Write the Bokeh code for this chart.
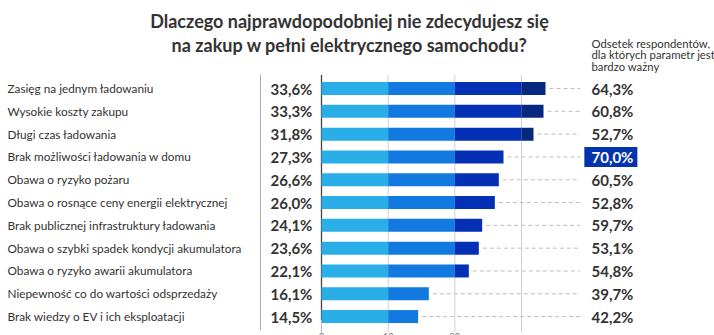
from bokeh.plotting import figure
from bokeh.models import Range1d, ColumnDataSource
from bokeh.core.properties import value
from bokeh.embed import file_html
from bokeh.resources import INLINE

categories = [
    "Zasięg na jednym ładowaniu",
    "Wysokie koszty zakupu",
    "Długi czas ładowania",
    "Brak możliwości ładowania w domu",
    "Obawa o ryzyko pożaru",
    "Obawa o rosnące ceny energii elektrycznej",
    "Brak publicznej infrastruktury ładowania",
    "Obawa o szybki spadek kondycji akumulatora",
    "Obawa o ryzyko awarii akumulatora",
    "Niepewność co do wartości odsprzedaży",
    "Brak wiedzy o EV i ich eksploatacji",
]
shares = [33.6, 33.3, 31.8, 27.3, 26.6, 26.0, 24.1, 23.6, 22.1, 16.1, 14.5]
very_important = [64.3, 60.8, 52.7, 70.0, 60.5, 52.8, 59.7, 53.1, 54.8, 39.7, 42.2]
band_edges = [0, 10, 20, 30, 100]
band_colors = ["#2aaee8", "#1279e0", "#0430b5", "#06287e"]
axis_ticks = [0, 10, 20, 30]
axis_tick_labels = ["0", "10", "20", "30%"]
title_lines = ["Dlaczego najprawdopodobniej nie zdecydujesz się",
               "na zakup w pełni elektrycznego samochodu?"]
header_lines = ["Odsetek respondentów,", "dla których parametr jest", "bardzo ważny"]

def fmt(v):
    return f"{v:.1f}".replace(".", ",") + "%"

FONT = "Lato"
TXT = "#333333"
PX = 6.667  # pixels per percentage point

rows = list(range(len(categories)))

p = figure(width=714, height=335, output_backend="svg", toolbar_location=None,
           x_range=Range1d(-321 / PX, (714 - 321) / PX),
           y_range=Range1d(10.83, -3.86),
           x_axis_type=None, y_axis_type=None, min_border=0)
p.outline_line_color = None
p.xgrid.visible = False
p.ygrid.visible = False
p.background_fill_color = "white"
p.border_fill_color = "white"

# gridlines and axis
p.segment(x0=axis_ticks[1:], x1=axis_ticks[1:], y0=-0.6, y1=10.7,
          line_color="#d0d0d0", line_width=1)
p.segment(x0=[0], x1=[0], y0=[-0.6], y1=[10.15], line_color="#444444", line_width=1.3)
p.segment(x0=[0], x1=[0], y0=[10.15], y1=[10.7], line_color="#bbbbbb", line_width=1)
p.segment(x0=[-9.15], x1=[-9.15], y0=[-0.6], y1=[10.6], line_color="#aaaaaa", line_width=1)

# stacked colour bands
for lo, hi, col in zip(band_edges[:-1], band_edges[1:], band_colors):
    ys, ls, rs = [], [], []
    for r, v in zip(rows, shares):
        if v > lo:
            ys.append(r)
            ls.append(lo)
            rs.append(min(v, hi))
    p.hbar(y=ys, left=ls, right=rs, height=0.57, fill_color=col, line_color=None)

# dashed leaders
p.segment(x0=[v + 0.6 for v in shares], x1=[38.8] * len(shares), y0=rows, y1=rows,
          line_color="#bdbdbd", line_width=1, line_dash="4 3")

# left category labels
p.text(x=[-47.1] * len(rows), y=rows, text=categories, text_font=value(FONT),
       text_font_size="11.8px", text_color=TXT, text_baseline="middle", text_align="left")

# share values
p.text(x=[-7.65] * len(rows), y=rows, text=[fmt(v) for v in shares], text_font=value(FONT),
       text_font_size="15px", text_font_style="bold", text_color=TXT,
       text_baseline="middle", text_align="left")

# highlight box for the maximum
imax = very_important.index(max(very_important))
p.rect(x=[43.4], y=[imax], width=7.95, height=0.88, fill_color="#0433b0", line_color=None)
src = ColumnDataSource(dict(x=[40.5] * len(rows), y=rows,
                            t=[fmt(v) for v in very_important],
                            c=["white" if i == imax else TXT for i in rows]))
p.text(x="x", y="y", text="t", text_color="c", source=src, text_font=value(FONT),
       text_font_size="15px", text_font_style="bold", text_baseline="middle", text_align="left")

# header on the right
p.text(x=[40.5] * 3, y=[-1.99, -1.48, -0.97], text=header_lines, text_font=value(FONT),
       text_font_size="11.3px", text_color=TXT, text_baseline="middle", text_align="left")

# title
p.text(x=[4.2, 4.2], y=[-2.94, -1.93], text=title_lines, text_font=value(FONT),
       text_font_size="18px", text_font_style="bold", text_color=TXT,
       text_baseline="middle", text_align="center")

# axis tick labels (mostly cut off at the bottom, as in the source)
p.text(x=axis_ticks, y=[10.72] * 4, text=axis_tick_labels, text_font=value(FONT),
       text_font_size="9px", text_color="#777777", text_baseline="top", text_align="center")

open("out.html", "w").write(file_html(p, INLINE))
